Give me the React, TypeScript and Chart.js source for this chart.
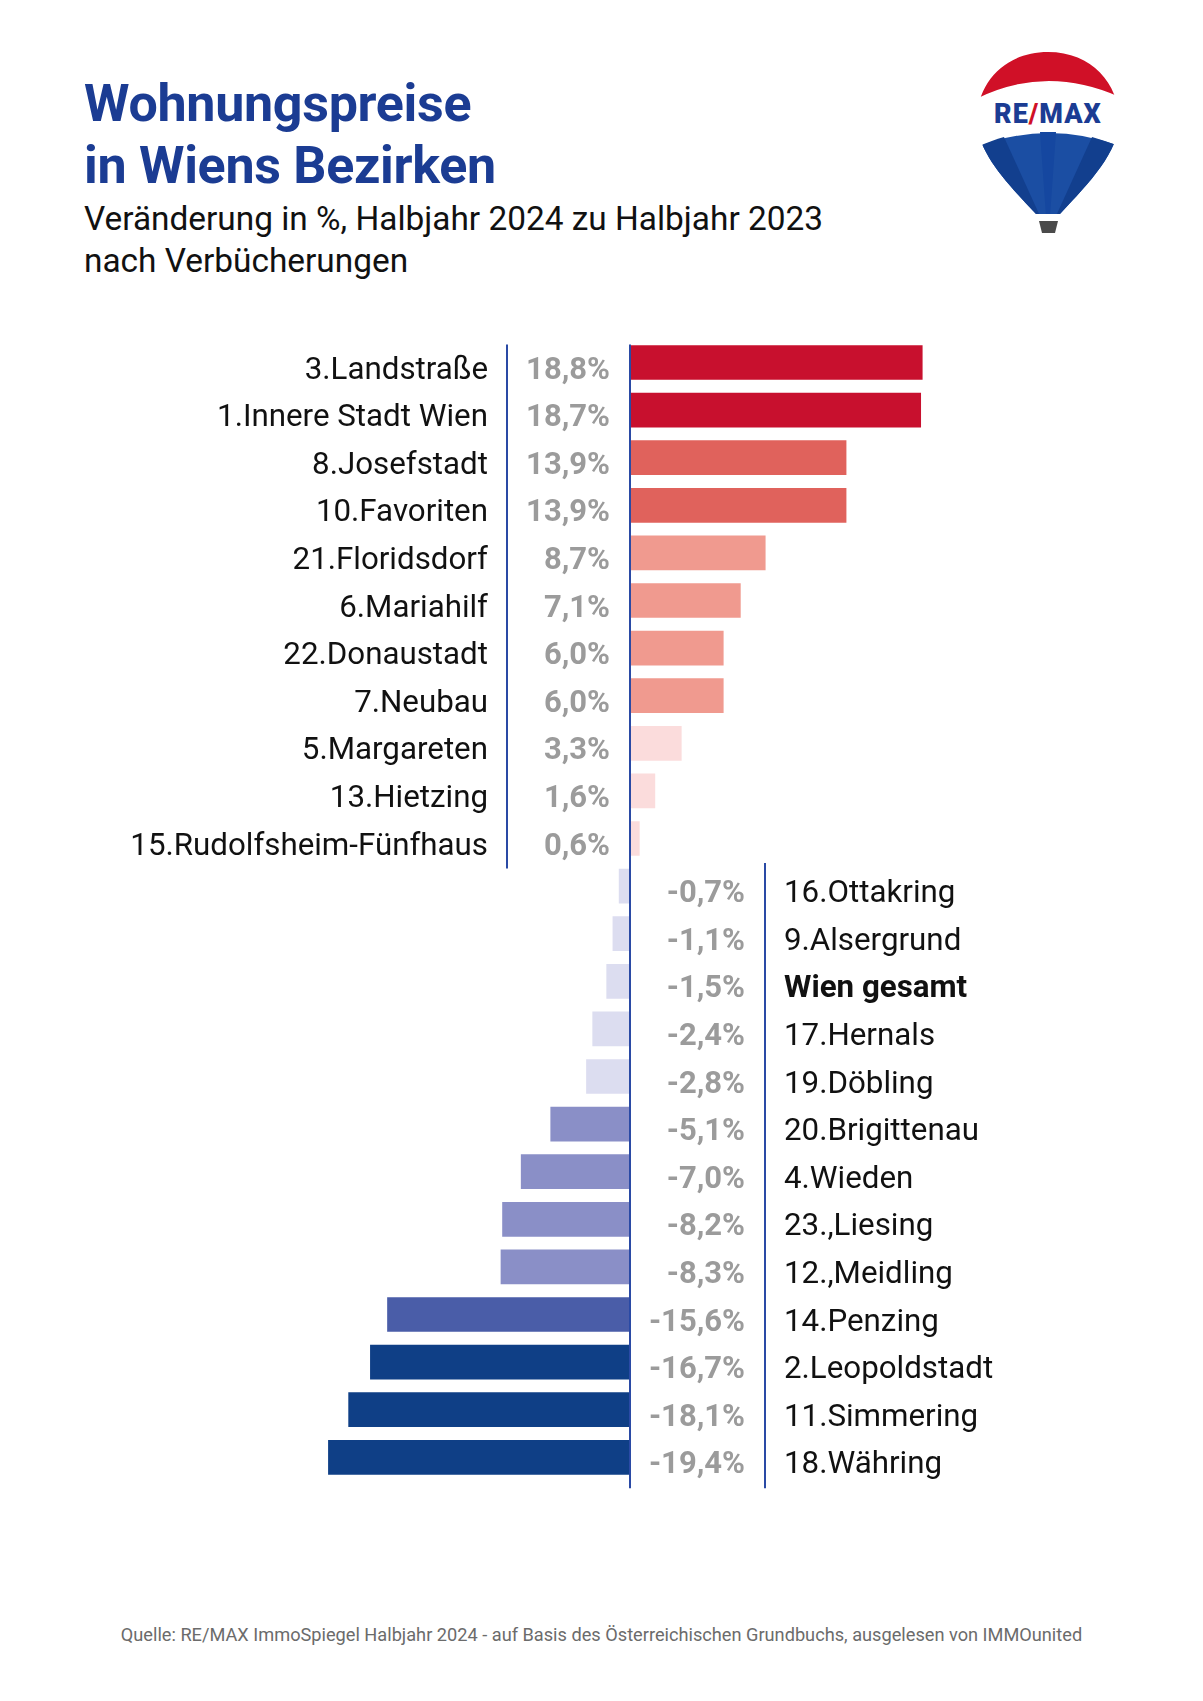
import React, { useEffect, useRef } from 'react';
import { Chart, registerables } from 'chart.js';

Chart.register(...registerables);

const districts = [
  '3.Landstraße',
  '1.Innere Stadt Wien',
  '8.Josefstadt',
  '10.Favoriten',
  '21.Floridsdorf',
  '6.Mariahilf',
  '22.Donaustadt',
  '7.Neubau',
  '5.Margareten',
  '13.Hietzing',
  '15.Rudolfsheim-Fünfhaus',
  '16.Ottakring',
  '9.Alsergrund',
  'Wien gesamt',
  '17.Hernals',
  '19.Döbling',
  '20.Brigittenau',
  '4.Wieden',
  '23.,Liesing',
  '12.,Meidling',
  '14.Penzing',
  '2.Leopoldstadt',
  '11.Simmering',
  '18.Währing',
];

const changes = [
  18.8, 18.7, 13.9, 13.9, 8.7, 7.1, 6.0, 6.0, 3.3, 1.6, 0.6,
  -0.7, -1.1, -1.5, -2.4, -2.8, -5.1, -7.0, -8.2, -8.3, -15.6, -16.7, -18.1, -19.4,
];

const totalLabel = 'Wien gesamt';

function colorFor(v: number): string {
  if (v >= 15) return '#C8102E';
  if (v >= 10) return '#E0625C';
  if (v >= 5) return '#F09A8F';
  if (v > 0) return '#FBDCDC';
  if (v > -4) return '#DCDDF0';
  if (v > -10) return '#8A8FC7';
  if (v > -16) return '#4A5DA8';
  return '#0F3F86';
}

const fmt = (v: number) => v.toFixed(1).replace('.', ',') + '%';

const FONT = 'Roboto, "Noto Sans", sans-serif';

const labelPlugin = {
  id: 'sideLabels',
  afterDatasetsDraw(chart: any) {
    const { ctx } = chart;
    const xs = chart.scales.x;
    const ys = chart.scales.y;
    const zeroX = xs.getPixelForValue(0);
    const half = 17;
    const firstY = ys.getPixelForValue(0);
    const lastY = ys.getPixelForValue(changes.length - 1);
    const lastPos = changes.filter((v) => v > 0).length - 1;
    const posEndY = ys.getPixelForValue(lastPos);
    const negStartY = ys.getPixelForValue(lastPos + 1);
    ctx.save();
    ctx.strokeStyle = '#2A4AA5';
    ctx.lineWidth = 2;
    ctx.beginPath();
    ctx.moveTo(zeroX, firstY - half - 1);
    ctx.lineTo(zeroX, lastY + half + 14);
    ctx.moveTo(507, firstY - half - 1);
    ctx.lineTo(507, posEndY + half + 13);
    ctx.moveTo(765, negStartY - half - 6);
    ctx.lineTo(765, lastY + half + 14);
    ctx.stroke();

    ctx.textBaseline = 'alphabetic';
    changes.forEach((v, i) => {
      const cy = ys.getPixelForValue(i);
      const base = cy + 16;
      const name = districts[i];
      if (v > 0) {
        ctx.font = `400 31.3px ${FONT}`;
        ctx.fillStyle = '#111111';
        ctx.textAlign = 'right';
        ctx.fillText(name, 488, base);
        ctx.font = `700 31px ${FONT}`;
        ctx.fillStyle = '#9B9B9B';
        ctx.fillText(fmt(v), 610, base);
      } else {
        ctx.font = `700 31px ${FONT}`;
        ctx.fillStyle = '#9B9B9B';
        ctx.textAlign = 'right';
        ctx.fillText(fmt(v), 745, base);
        ctx.font = `${name === totalLabel ? 700 : 400} 31.3px ${FONT}`;
        ctx.fillStyle = '#111111';
        ctx.textAlign = 'left';
        ctx.fillText(name, 784, base);
      }
    });
    ctx.restore();
  },
};

function BarChart() {
  const ref = useRef<HTMLCanvasElement | null>(null);
  useEffect(() => {
    if (!ref.current) return;
    const chart = new Chart(ref.current, {
      type: 'bar',
      data: {
        labels: districts,
        datasets: [
          {
            data: changes,
            backgroundColor: changes.map(colorFor),
            borderWidth: 0,
            barThickness: 34,
          },
        ],
      },
      options: {
        indexAxis: 'y',
        responsive: false,
        animation: false,
        devicePixelRatio: 1,
        layout: { padding: { left: 288, right: 231, top: 38.7, bottom: 38.9 } },
        plugins: { legend: { display: false }, tooltip: { enabled: false } },
        scales: {
          x: { display: false, min: -22, max: 22 },
          y: { display: false, offset: true },
        },
      },
      plugins: [labelPlugin],
    } as any);
    return () => chart.destroy();
  }, []);
  return (
    <canvas
      ref={ref}
      width={1203}
      height={1220}
      style={{ position: 'absolute', left: 0, top: 300, width: 1203, height: 1220 }}
    />
  );
}

function Logo() {
  const outline =
    'M 1048 52 C 1092 52 1119 84 1119 120 C 1119 152 1090 182 1060 214 L 1036 214 C 1006 182 977 152 977 120 C 977 84 1004 52 1048 52 Z';
  return (
    <svg
      width={160}
      height={195}
      viewBox="970 45 160 195"
      style={{ position: 'absolute', left: 970, top: 45 }}
    >
      <defs>
        <clipPath id="balloon">
          <path d={outline} />
        </clipPath>
      </defs>
      <path d={outline} fill="#ffffff" />
      <g clipPath="url(#balloon)">
        <path d="M 970 45 H 1130 V 102 Q 1048 60 970 102 Z" fill="#D01027" />
        <path d="M 970 150 Q 1048 116 1130 150 V 240 H 970 Z" fill="#1B4EA3" />
        <path d="M 970 150 Q 990 141 1004 137 L 1040 216 L 1030 216 Z" fill="#123F8E" />
        <path d="M 1130 150 Q 1106 141 1092 137 L 1056 216 L 1066 216 Z" fill="#123F8E" />
        <path d="M 1040 132 L 1056 132 L 1050 216 L 1046 216 Z" fill="#1547A0" />
      </g>
      <path d="M 1039 221 L 1058 221 L 1055 233 L 1042 233 Z" fill="#4a4a4a" />
      <text
        x={1048}
        y={123}
        textAnchor="middle"
        fontFamily={FONT}
        fontWeight={900}
        fontSize={27}
        fill="#1B3C93"
        letterSpacing={1}
      >
        RE<tspan fill="#D01027">/</tspan>MAX
      </text>
    </svg>
  );
}

export default function App() {
  return (
    <div
      style={{
        position: 'absolute',
        left: 0,
        top: 0,
        width: 1203,
        height: 1701,
        background: '#ffffff',
        fontFamily: FONT,
        overflow: 'hidden',
      }}
    >
      <div
        style={{
          position: 'absolute',
          left: 84,
          top: 73,
          fontSize: 52,
          fontWeight: 700,
          lineHeight: '62px',
          color: '#1B3C93',
          letterSpacing: -0.3,
        }}
      >
        Wohnungspreise
        <br />
        in Wiens Bezirken
      </div>
      <div
        style={{
          position: 'absolute',
          left: 84,
          top: 198,
          fontSize: 33.4,
          fontWeight: 400,
          lineHeight: '42px',
          color: '#111111',
        }}
      >
        Veränderung in %, Halbjahr 2024 zu Halbjahr 2023
        <br />
        nach Verbücherungen
      </div>
      <Logo />
      <BarChart />
      <div
        style={{
          position: 'absolute',
          left: 0,
          top: 1624,
          width: 1203,
          textAlign: 'center',
          fontSize: 18.2,
          color: '#6B6B6B',
        }}
      >
        Quelle: RE/MAX ImmoSpiegel Halbjahr 2024 - auf Basis des Österreichischen Grundbuchs, ausgelesen von IMMOunited
      </div>
    </div>
  );
}
